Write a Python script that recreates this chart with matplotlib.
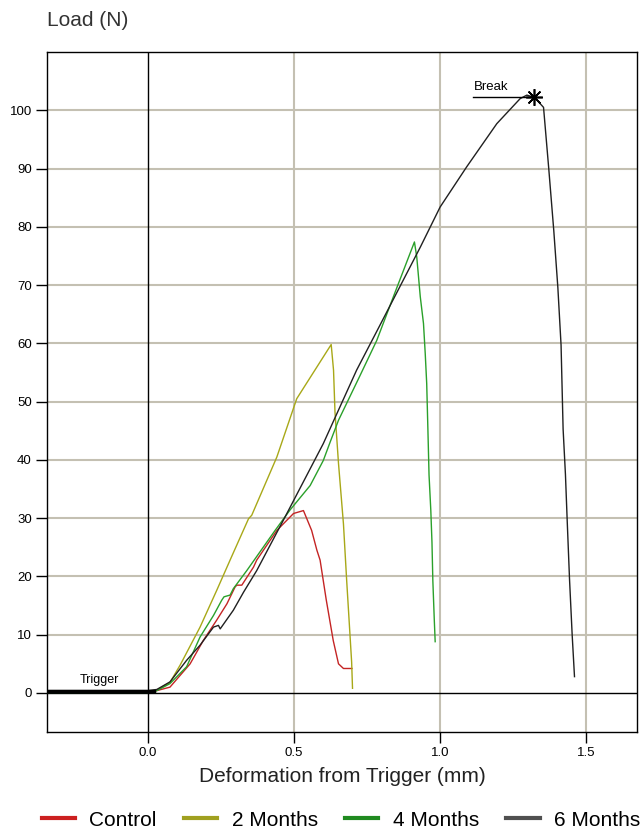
import matplotlib
matplotlib.use("Agg")
import matplotlib.pyplot as plt
from matplotlib.lines import Line2D

plt.rcParams['font.family'] = ['Liberation Sans', 'DejaVu Sans']

# Control
control_x = [-0.35, 0.0, 0.03, 0.075, 0.144, 0.189, 0.235, 0.27, 0.298, 0.304, 0.321, 0.361,
             0.372, 0.441, 0.498, 0.532, 0.56, 0.578, 0.589, 0.61, 0.634, 0.652, 0.669, 0.698]
control_y = [0.2, 0.2, 0.4, 1.0, 5.0, 9.0, 12.5, 15.3, 18.2, 18.5, 18.5, 21.6,
             22.8, 27.9, 30.8, 31.3, 27.9, 24.5, 22.8, 16.0, 9.0, 5.0, 4.2, 4.2]

# 2 Months
m2_x = [-0.35, 0.0, 0.03, 0.075, 0.11, 0.178, 0.235, 0.287, 0.344, 0.355, 0.441, 0.509,
        0.627, 0.635, 0.64, 0.652, 0.669, 0.68, 0.697, 0.70]
m2_y = [0.3, 0.3, 0.5, 1.8, 4.8, 11.3, 17.6, 23.5, 29.9, 30.5, 40.5, 50.5,
        59.8, 55.4, 48.2, 39.4, 29.0, 19.3, 5.3, 0.8]

# 4 Months
m4_x = [-0.35, 0.0, 0.03, 0.075, 0.132, 0.178, 0.224, 0.252, 0.26, 0.281, 0.292, 0.338,
        0.435, 0.486, 0.555, 0.60, 0.623, 0.652, 0.726, 0.783, 0.846, 0.912, 0.92, 0.932,
        0.943, 0.949, 0.954, 0.958, 0.962, 0.968, 0.972, 0.975, 0.98, 0.983]
m4_y = [0.1, 0.1, 0.4, 1.6, 4.5, 9.6, 13.3, 15.9, 16.5, 16.8, 17.9, 21.0,
        27.9, 31.4, 35.6, 39.9, 43.0, 46.8, 54.5, 60.5, 68.8, 77.4, 74.8, 68.0,
        63.4, 58.2, 53.1, 45.4, 37.4, 31.4, 25.9, 19.3, 12.5, 8.8]

# 6 Months
m6_x = [-0.35, 0.0, 0.03, 0.075, 0.132, 0.178, 0.224, 0.241, 0.247, 0.292, 0.327, 0.372,
        0.469, 0.60, 0.714, 0.80, 0.932, 1.0, 1.091, 1.194, 1.274, 1.297, 1.323, 1.354,
        1.372, 1.389, 1.403, 1.414, 1.421, 1.429, 1.435, 1.443, 1.452, 1.46]
m6_y = [0.4, 0.4, 0.6, 1.9, 5.6, 8.2, 11.3, 11.6, 11.0, 14.2, 17.3, 21.0,
        30.2, 42.8, 55.4, 63.7, 76.5, 83.4, 90.3, 97.7, 102.0, 102.6, 102.2, 100.5,
        89.9, 79.4, 69.6, 59.7, 45.3, 37.5, 29.6, 19.5, 10.0, 2.8]

series_names = ['Control', '2 Months', '4 Months', '6 Months']
series_colors = ['#c42424', '#a8a818', '#2aa02a', '#202020']
legend_colors = ['#cc2020', '#a0a020', '#208a20', '#505050']

break_x, break_y = 1.323, 102.2
x_ticks = [0.0, 0.5, 1.0, 1.5]
y_ticks = list(range(0, 101, 10))

fig = plt.figure(figsize=(6.42, 8.32), dpi=100)
ax = fig.add_axes([47 / 642, 1 - 732 / 832, (637 - 47) / 642, (732 - 52) / 832])

ax.set_xlim(-0.346, 1.674)
ax.set_ylim(-6.7, 110)

# grid
for gx in x_ticks[1:]:
    ax.axvline(gx, color='#c4c0b2', lw=1.5, zorder=1)
for gy in y_ticks[1:]:
    ax.axhline(gy, color='#c4c0b2', lw=1.5, zorder=1)
ax.axvline(0, color='black', lw=1, zorder=2)
ax.axhline(0, color='black', lw=1, zorder=2)

all_x = [control_x, m2_x, m4_x, m6_x]
all_y = [control_y, m2_y, m4_y, m6_y]
for xs, ys, c in zip(all_x, all_y, series_colors):
    ax.plot(xs, ys, color=c, lw=1.0, zorder=3)

# trigger segment
ax.plot([-0.346, 0.02], [0.3, 0.3], color='black', lw=2.5, zorder=4)
ax.text(-0.233, 1.2, 'Trigger', fontsize=9, ha='left', va='bottom')

# break marker
ax.plot([1.114, break_x], [break_y, break_y], color='black', lw=1, zorder=4)
ax.plot([break_x], [break_y], marker=(8, 2, 0), color='black', markersize=12, mew=1.2, zorder=5)
ax.text(1.114, 102.9, 'Break', fontsize=9.5, ha='left', va='bottom')

ax.set_xticks(x_ticks)
ax.set_xticklabels(['0.0', '0.5', '1.0', '1.5'])
ax.set_yticks(y_ticks)
ax.tick_params(direction='out', length=8, width=1, labelsize=9.5, pad=3)
for s in ax.spines.values():
    s.set_linewidth(1)

fig.text(47 / 642, 1 - 20 / 832, 'Load (N)', fontsize=15, color='#333333', ha='left', va='center')
fig.text(342 / 642, 1 - 776 / 832, 'Deformation from Trigger (mm)', fontsize=15,
         color='#222222', ha='center', va='center')

handles = [Line2D([0], [0], color=c, lw=3) for c in legend_colors]
fig.legend(handles, series_names, loc='center', bbox_to_anchor=(341 / 642, 1 - 820 / 832),
           ncol=4, frameon=False, fontsize=15, handlelength=1.6, handletextpad=0.7,
           columnspacing=1.3)

fig.savefig('out.png', dpi=100)
